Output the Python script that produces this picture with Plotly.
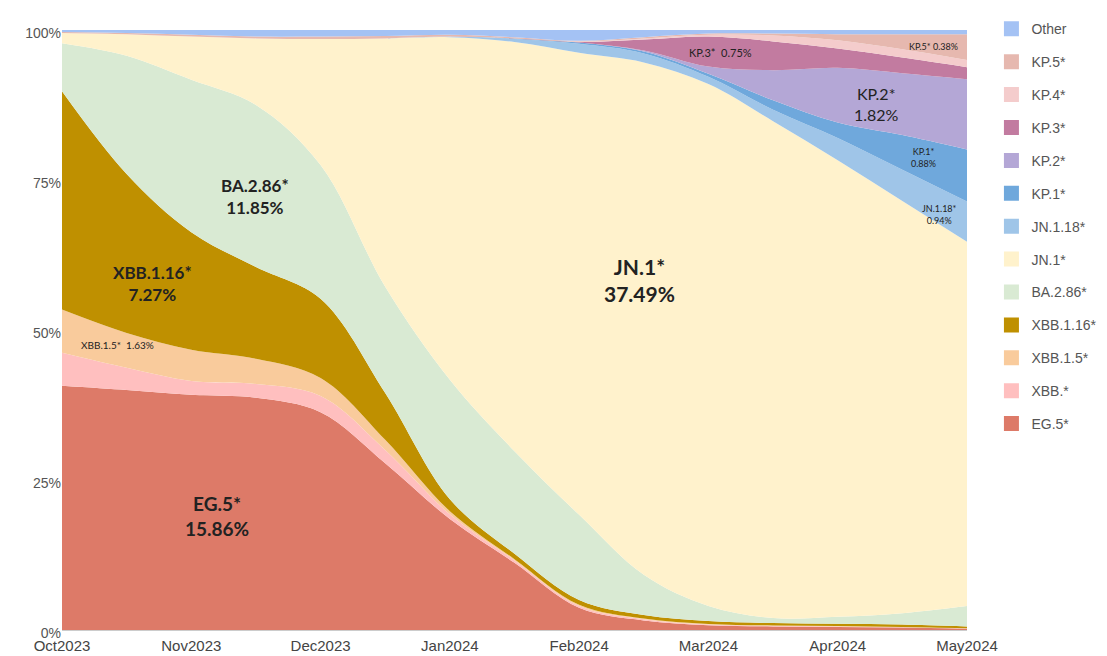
import plotly.graph_objects as go

# semimonthly positions (0 = Oct 2023 ... 7 = May 2024)
t = [0, 0.5, 1, 1.5, 2, 2.5, 3, 3.5, 4, 4.5, 5, 5.5, 6, 6.5, 7]
month_ticks = [0, 1, 2, 3, 4, 5, 6, 7]
month_labels = ["Oct2023", "Nov2023", "Dec2023", "Jan2024", "Feb2024", "Mar2024", "Apr2024", "May2024"]

EG5 = [40.7, 40.0, 39.2, 38.7, 36.3, 27.8, 18.5, 11.2, 3.7, 1.6, 0.8, 0.6, 0.5, 0.4, 0.2]
XBB = [5.5, 3.7, 2.3, 2.3, 2.7, 2.2, 0.8, 0.4, 0.3, 0.2, 0.1, 0.1, 0.1, 0.05, 0.05]
XBB15 = [7.2, 5.8, 5.2, 4.2, 3.0, 1.7, 0.5, 0.2, 0.2, 0.1, 0.1, 0.05, 0.05, 0.05, 0.05]
XBB116 = [36.4, 26.5, 19.6, 15.3, 13.2, 7.8, 2.0, 0.9, 0.8, 0.6, 0.5, 0.4, 0.4, 0.4, 0.3]
BA286 = [8.0, 19.7, 25.4, 27.0, 22.3, 17.7, 19.9, 17.1, 14.2, 6.7, 2.5, 0.85, 1.15, 1.9, 3.4]
JN1 = [1.7, 3.6, 7.2, 11.1, 21.0, 41.4, 57.1, 68.2, 77.0, 85.4, 87.0, 82.8, 76.1, 68.7, 60.7]
JN118 = [0, 0, 0, 0, 0, 0, 0.1, 0.5, 1.5, 1.5, 1.2, 1.9, 3.7, 5.2, 6.7]
KP1 = [0, 0, 0, 0, 0, 0, 0, 0.1, 0.2, 0.3, 0.5, 1.6, 2.6, 5.8, 8.7]
KP2 = [0, 0, 0, 0, 0, 0, 0, 0, 0, 0.2, 1.2, 5.0, 9.1, 10.3, 11.7]
KP3 = [0, 0, 0, 0, 0, 0, 0, 0, 0.1, 1.8, 5.0, 4.8, 3.2, 2.6, 2.0]
KP4 = [0, 0, 0, 0, 0, 0, 0, 0, 0.1, 0.2, 0.3, 1.0, 1.4, 1.4, 1.2]
KP5 = [0.15, 0.2, 0.3, 0.3, 0.4, 0.4, 0.3, 0.2, 0.1, 0.2, 0.2, 0.3, 1.0, 2.5, 4.3]
OTHER = [0.35, 0.5, 0.8, 1.1, 1.1, 1.0, 0.8, 1.2, 1.8, 1.2, 0.6, 0.6, 0.7, 0.7, 0.7]

series = [
    ("EG.5*", EG5, "#dd7a68"),
    ("XBB.*", XBB, "#ffbfbf"),
    ("XBB.1.5*", XBB15, "#f9cb9c"),
    ("XBB.1.16*", XBB116, "#bf9000"),
    ("BA.2.86*", BA286, "#d9ead3"),
    ("JN.1*", JN1, "#fff2cc"),
    ("JN.1.18*", JN118, "#9fc5e8"),
    ("KP.1*", KP1, "#6fa8dc"),
    ("KP.2*", KP2, "#b4a7d6"),
    ("KP.3*", KP3, "#c27ba0"),
    ("KP.4*", KP4, "#f4cccc"),
    ("KP.5*", KP5, "#e6b8af"),
    ("Other", OTHER, "#a4c2f4"),
]

fig = go.Figure()
for i, (name, vals, col) in enumerate(series):
    fig.add_trace(go.Scatter(
        x=t, y=vals, name=name, mode="lines",
        stackgroup="one", groupnorm="percent" if i == 0 else None,
        line=dict(width=0, shape="spline", smoothing=1.0, color=col),
        fillcolor=col, showlegend=False,
    ))
# legend entries with square swatches (top of stack first)
for name, vals, col in reversed(series):
    fig.add_trace(go.Scatter(
        x=[None], y=[None], name=name, mode="markers",
        marker=dict(symbol="square", size=15, color=col),
        legendgroup=name, showlegend=True,
    ))

ann_font = "Lato, Open Sans, sans-serif"
labels = [
    (1.49, 72.2, "<b>BA.2.86*<br>11.85%</b>", 17),
    (0.70, 57.7, "<b>XBB.1.16*<br>7.27%</b>", 17),
    (0.43, 47.5, "XBB.1.5*  1.63%", 10),
    (1.20, 19.0, "<b>EG.5*<br>15.86%</b>", 19),
    (4.47, 58.3, "<b>JN.1*<br>37.49%</b>", 21),
    (5.09, 96.3, "KP.3*  0.75%", 11),
    (6.30, 87.7, "KP.2*<br>1.82%", 16),
    (6.66, 78.8, "KP.1*<br>0.88%", 9),
    (6.79, 69.3, "JN.1.18*<br>0.94%", 9),
    (6.74, 97.2, "KP.5* 0.38%", 9),
]
for x, y, txt, sz in labels:
    fig.add_annotation(x=x, y=y, xref="x", yref="y", text=txt, showarrow=False,
                       font=dict(family=ann_font, size=sz, color="#222222"),
                       align="center")

# the page adds an 8px body margin, so the figure is 8px smaller and shifted
fig.update_layout(
    width=1099, height=648,
    margin=dict(l=54, r=140, t=22, b=26, autoexpand=False),
    paper_bgcolor="white", plot_bgcolor="white",
    font=dict(family="Liberation Sans, Arial, sans-serif", size=14, color="#555555"),
    showlegend=True,
    legend=dict(traceorder="grouped", x=1.027, y=1.028, xanchor="left", yanchor="top",
                font=dict(size=14, color="#555555"), tracegroupgap=11.7,
                itemwidth=30, bgcolor="rgba(0,0,0,0)", maxheight=640),
    hovermode=False,
)
fig.update_xaxes(range=[0, 7], tickvals=month_ticks, ticktext=month_labels,
                 showgrid=False, zeroline=False, showline=True, linecolor="#cccccc",
                 ticks="", tickfont=dict(size=15, color="#444444"), automargin=False,
                 ticklabelstandoff=2)
fig.update_yaxes(range=[0, 100], tickvals=[0, 25, 50, 75, 100],
                 ticktext=["0%", "25%", "50%", "75%", "100%"],
                 showgrid=False, zeroline=False, showline=False, ticks="",
                 tickfont=dict(size=14, color="#555555"), automargin=False,
                 ticklabelshift=3)

fig.write_html("out.html")
